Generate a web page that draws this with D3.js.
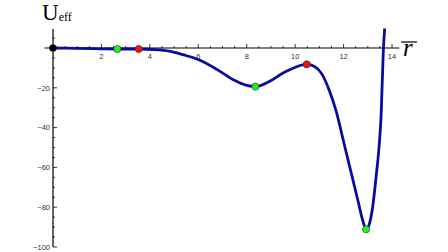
<!DOCTYPE html>
<html>
<head>
<meta charset="utf-8">
<script src="https://cdn.jsdelivr.net/npm/d3@7"></script>
<style>
  body { margin: 0; background: #fff; }
  svg { display: block; }
</style>
</head>
<body>
<div id="chart"></div>
<script>
// curve samples (r, Ueff)
var rVals = [0, 1, 2, 2.66, 3.54, 4.2, 4.8, 5.4, 6.0, 6.8, 7.45, 8.0, 8.36, 8.97, 9.5, 9.8, 10.2, 10.48, 10.8, 11.1, 11.4, 11.7, 12.0, 12.3, 12.6, 12.8, 12.93, 13.05, 13.2, 13.35, 13.45, 13.55, 13.64, 13.72];
var uVals = [0, -0.2, -0.4, -0.5, -0.5, -0.8, -1.6, -3.5, -5.8, -11, -16, -18.8, -19.4, -16.6, -12.6, -10.8, -8.8, -8.2, -9.3, -13, -21, -32, -47, -62, -77, -87, -91.1, -89, -80, -64, -52, -34, -2, 14];

// marked points
var ptR = [0, 2.66, 3.54, 8.36, 10.48, 12.93];
var ptU = [0, -0.5, -0.5, -19.4, -8.2, -91.1];
var ptColor = ["#000000", "#22ee22", "#ee1111", "#22ee22", "#ee1111", "#22ee22"];

var xTicks = [2, 4, 6, 8, 10, 12, 14];
var yTicks = [-20, -40, -60, -80, -100];

var width = 448, height = 252;

var svg = d3.select("#chart")
  .append("svg")
    .attr("width", width)
    .attr("height", height);

var x = d3.scaleLinear().domain([0, 14]).range([53, 392]);
var y = d3.scaleLinear().domain([0, -100]).range([48, 247]);

var curveData = rVals.map(function(r, i) { return [r, uVals[i]]; });
var pts = ptR.map(function(r, i) { return {r: r, u: ptU[i], c: ptColor[i]}; });

svg.append("defs").append("clipPath")
    .attr("id", "clip")
  .append("rect")
    .attr("x", 40).attr("y", y(9.8))
    .attr("width", 380).attr("height", 230);

// x axis, ticks pointing up
var xAxis = svg.append("g");
xAxis.append("line")
  .attr("x1", x(-0.35)).attr("x2", x(14.3))
  .attr("y1", y(0)).attr("y2", y(0))
  .style("stroke", "#000").style("stroke-width", 1.2);

var xMinor = d3.range(0.5, 14.3, 0.5);
xAxis.selectAll(".xt")
  .data(xMinor)
  .enter()
  .append("line")
    .attr("x1", function(d) { return x(d); })
    .attr("x2", function(d) { return x(d); })
    .attr("y1", y(0))
    .attr("y2", function(d) { return d % 2 === 0 ? y(0) - 4 : y(0) - 2; })
    .style("stroke", "#000").style("stroke-width", 0.8);

xAxis.selectAll("text")
  .data(xTicks)
  .enter()
  .append("text")
    .attr("x", function(d) { return x(d); })
    .attr("y", y(0) + 11)
    .attr("text-anchor", "middle")
    .attr("font-family", "Liberation Sans, Arial, sans-serif")
    .attr("font-size", 7.5)
    .attr("fill", "#333")
    .text(function(d) { return d; });

// y axis, ticks pointing right
var yAxis = svg.append("g");
yAxis.append("line")
  .attr("x1", x(0)).attr("x2", x(0))
  .attr("y1", y(9.6)).attr("y2", y(-100))
  .style("stroke", "#000").style("stroke-width", 1.2);

var yMinor = d3.range(5, -101, -5);
yAxis.selectAll(".yt")
  .data(yMinor)
  .enter()
  .append("line")
    .attr("x1", x(0))
    .attr("x2", function(d) { return d % 20 === 0 ? x(0) + 4 : x(0) + 2; })
    .attr("y1", function(d) { return y(d); })
    .attr("y2", function(d) { return y(d); })
    .style("stroke", "#000").style("stroke-width", 0.8);

yAxis.selectAll("text")
  .data(yTicks)
  .enter()
  .append("text")
    .attr("x", x(0) - 3)
    .attr("y", function(d) { return y(d) + 2.7; })
    .attr("text-anchor", "end")
    .attr("font-family", "Liberation Sans, Arial, sans-serif")
    .attr("font-size", 7.5)
    .attr("fill", "#333")
    .text(function(d) { return "\u2212" + Math.abs(d); });

// the curve
var line = d3.line()
  .x(function(d) { return x(d[0]); })
  .y(function(d) { return y(d[1]); })
  .curve(d3.curveMonotoneX);

svg.append("path")
  .datum(curveData)
  .attr("clip-path", "url(#clip)")
  .attr("d", line)
  .style("fill", "none")
  .style("stroke", "#0a0a9e")
  .style("stroke-width", 2.8);

// points
svg.selectAll(".pt")
  .data(pts)
  .enter()
  .append("circle")
    .attr("cx", function(d) { return x(d.r); })
    .attr("cy", function(d) { return y(d.u); })
    .attr("r", 3.6)
    .style("fill", function(d) { return d.c; })
    .style("stroke", "#333")
    .style("stroke-width", 0.6);

// axis labels
var uLab = svg.append("text")
  .attr("x", 42).attr("y", 20)
  .attr("font-family", "Liberation Serif, Times New Roman, serif")
  .attr("font-size", 23);
uLab.append("tspan").text("U");
uLab.append("tspan").attr("font-size", 12).attr("dy", 1).text("eff");

svg.append("text")
  .attr("x", 403).attr("y", 56)
  .attr("font-family", "Liberation Serif, Times New Roman, serif")
  .attr("font-style", "italic")
  .attr("font-size", 25)
  .text("r");
svg.append("line")
  .attr("x1", 401).attr("x2", 417)
  .attr("y1", 42).attr("y2", 42)
  .style("stroke", "#000").style("stroke-width", 1.2);
</script>
</body>
</html>
